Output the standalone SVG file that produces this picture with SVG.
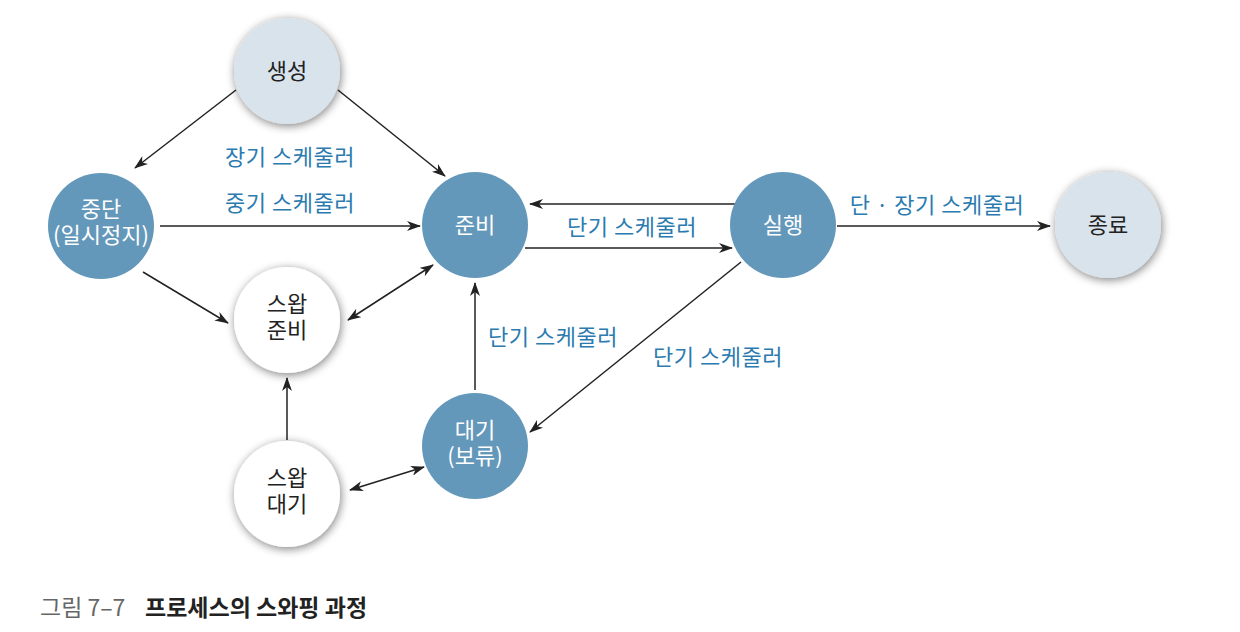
<svg xmlns="http://www.w3.org/2000/svg" width="1240" height="632" viewBox="0 0 1240 632">
<style>
.nt{font-family:"Noto Sans CJK KR","Noto Sans",sans-serif;font-size:22px;text-anchor:middle}
.w{fill:#ffffff}
.d{fill:#222222}
.lb{font-family:"Noto Sans CJK KR","Noto Sans",sans-serif;font-size:22px;fill:#2b7bb0;text-anchor:middle;letter-spacing:0.5px}
.e{stroke:#222;stroke-width:1.5;fill:none;marker-end:url(#ah)}
.bi{marker-start:url(#as)}
.blue{fill:#6498bb}
.light{fill:#d9e3ec;filter:url(#sh)}
.white{fill:#ffffff;filter:url(#sh)}
</style>
<defs>
<filter id="sh" x="-30%" y="-30%" width="160%" height="160%">
<feGaussianBlur in="SourceAlpha" stdDeviation="5"/>
<feOffset dx="1" dy="2"/>
<feComponentTransfer><feFuncA type="linear" slope="0.5"/></feComponentTransfer>
<feMerge><feMergeNode/><feMergeNode in="SourceGraphic"/></feMerge>
</filter>
<marker id="ah" viewBox="0 0 14 10" refX="13" refY="5" markerWidth="14" markerHeight="10" markerUnits="userSpaceOnUse" orient="auto">
<path d="M0,0 L14,5 L0,10 L4,5 Z" fill="#222"/>
</marker>
<marker id="as" viewBox="0 0 14 10" refX="1" refY="5" markerWidth="14" markerHeight="10" markerUnits="userSpaceOnUse" orient="auto">
<path d="M14,0 L0,5 L14,10 L10,5 Z" fill="#222"/>
</marker>
</defs>
<rect width="1240" height="632" fill="#ffffff"/>
<g id="connectors">
<line class="e" x1="236" y1="90" x2="135" y2="168"/>
<line class="e" x1="338" y1="90" x2="445" y2="176"/>
<line class="e" x1="160" y1="226" x2="420" y2="226"/>
<line class="e" x1="143" y1="272" x2="228" y2="323"/>
<line class="e bi" x1="348" y1="320" x2="433" y2="265"/>
<line class="e" x1="735" y1="204" x2="530" y2="204"/>
<line class="e" x1="525" y1="248" x2="732" y2="248"/>
<line class="e" x1="837" y1="226" x2="1050" y2="226"/>
<line class="e" x1="741" y1="262" x2="530" y2="432"/>
<line class="e" x1="475" y1="390" x2="475" y2="283"/>
<line class="e" x1="287" y1="440" x2="287" y2="378"/>
<line class="e bi" x1="350" y1="490" x2="424" y2="467"/>
<text class="lb" x="290" y="165">장기 스케줄러</text>
<text class="lb" x="290" y="211">중기 스케줄러</text>
<text class="lb" x="632" y="235">단기 스케줄러</text>
<text class="lb" x="937" y="213">단 · 장기 스케줄러</text>
<text class="lb" x="553" y="345">단기 스케줄러</text>
<text class="lb" x="718" y="365">단기 스케줄러</text>
</g>
<g id="n-create"><circle class="light" cx="287" cy="71" r="53"/><text class="nt d" x="287" y="79">생성</text></g>
<g id="n-suspend"><circle class="blue" cx="101" cy="226" r="53"/><text class="nt w" x="101" y="217">중단</text><text class="nt w" x="101" y="243">(일시정지)</text></g>
<g id="n-ready"><circle class="blue" cx="475" cy="225" r="53"/><text class="nt w" x="475" y="233">준비</text></g>
<g id="n-run"><circle class="blue" cx="783" cy="225" r="53"/><text class="nt w" x="783" y="233">실행</text></g>
<g id="n-exit"><circle class="light" cx="1108" cy="225" r="53"/><text class="nt d" x="1108" y="233">종료</text></g>
<g id="n-swapready"><circle class="white" cx="287" cy="320" r="53"/><text class="nt d" x="287" y="312">스왑</text><text class="nt d" x="287" y="338">준비</text></g>
<g id="n-swapwait"><circle class="white" cx="287" cy="494" r="53"/><text class="nt d" x="287" y="486">스왑</text><text class="nt d" x="287" y="512">대기</text></g>
<g id="n-wait"><circle class="blue" cx="475" cy="446" r="53"/><text class="nt w" x="475" y="438">대기</text><text class="nt w" x="475" y="464">(보류)</text></g>
<g id="caption">
<text x="40" y="616" font-family="Noto Sans CJK KR,Noto Sans,sans-serif" font-size="23" fill="#666">그림 7–7</text>
<text x="145" y="616" font-family="Noto Sans CJK KR,Noto Sans,sans-serif" font-size="23" font-weight="bold" fill="#222">프로세스의 스와핑 과정</text>
</g>
</svg>
